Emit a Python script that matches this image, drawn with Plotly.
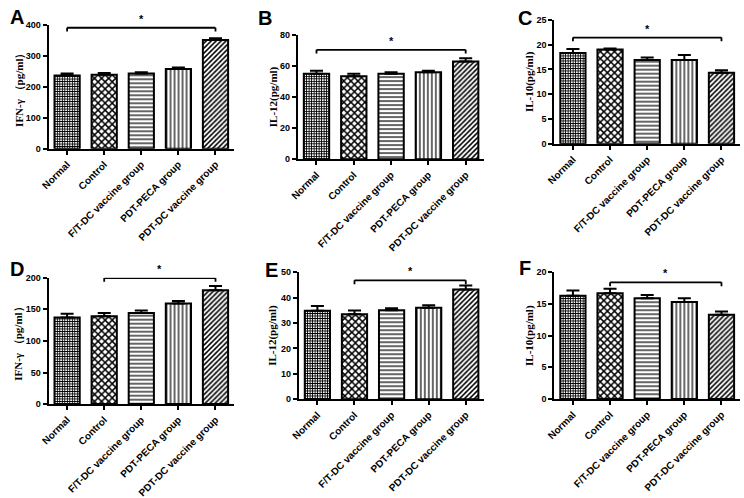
import plotly.graph_objects as go

categories = ["Normal", "Control", "F/T-DC vaccine group", "PDT-PECA group", "PDT-DC vaccine group"]

panel_letters = ["A", "B", "C", "D", "E", "F"]
y_titles = ["IFN-γ （pg/ml）", "IL-12(pg/ml)", "IL-10(pg/ml)",
            "IFN-γ （pg/ml）", "IL-12(pg/ml)", "IL-10(pg/ml)"]

# mean values
a_vals = [237, 240, 244, 258, 352]
b_vals = [55, 53.5, 55, 56, 63]
c_vals = [18.3, 19.0, 16.9, 16.9, 14.3]
d_vals = [137, 139, 144, 159, 180]
e_vals = [34.8, 33.5, 35, 36, 43.2]
f_vals = [16.3, 16.7, 15.9, 15.3, 13.3]

# upper error (value + SD)
a_err = [244, 245, 248, 263, 358]
b_err = [57, 55, 56, 57, 65]
c_err = [19.1, 19.2, 17.4, 17.9, 14.8]
d_err = [143, 144, 148, 163, 187]
e_err = [36.7, 34.9, 35.8, 37, 44.8]
f_err = [17.1, 17.4, 16.4, 15.9, 13.8]

# y-axis max and tick step
y_max = [400, 80, 25, 200, 50, 20]
y_step = [100, 20, 5, 50, 10, 5]

# significance brackets: (start category index, end category index, level)
brackets = [(0, 4, 392), (0, 4, 70.5), (0, 4, 21.4), (1, 4, 199.5), (1, 4, 46.8), (1, 4, 18.4)]

vals = [a_vals, b_vals, c_vals, d_vals, e_vals, f_vals]
errs = [a_err, b_err, c_err, d_err, e_err, f_err]

W, H = 744, 498
# pixel boxes: x0, x1, ytop, ybottom
boxes = [
    (41, 228.5, 20.7, 146.7),
    (293, 481.5, 30.7, 157.3),
    (552.3, 740, 15, 141.7),
    (41, 228.5, 278.3, 407.3),
    (294, 481.5, 272.7, 402.3),
    (552.3, 740, 272.7, 402),
]
title_x = [11, 268, 527, 11, 268, 527]
letter_pos = [(0, -1), (251, 0), (514, 0), (0, 256), (258, 257), (515, 255)]

patterns = ['+', 'x', '-', '|', '/']
pat_size = [2.5, 5, 4, 4, 3.5]
pat_sol = [0.6, 0.5, 0.3, 0.3, 0.45]

fig = go.Figure()
layout = dict(width=W, height=H, margin=dict(l=0, r=0, t=0, b=0),
              paper_bgcolor="white", plot_bgcolor="white", showlegend=False,
              shapes=[], annotations=[])

xtickfont = dict(family="Liberation Sans, Arial", size=10, color="black", weight="bold")
ytickfont = dict(family="Liberation Sans, Arial", size=9, color="black", weight="bold")

for i in range(6):
    n = i + 1
    xa = "x" if n == 1 else f"x{n}"
    ya = "y" if n == 1 else f"y{n}"
    x0, x1, yt, yb = boxes[i]
    fig.add_trace(go.Bar(
        x=categories, y=vals[i], xaxis=xa, yaxis=ya, width=0.68,
        marker=dict(color="white", line=dict(color="black", width=2),
                    pattern=dict(shape=patterns, size=pat_size, solidity=pat_sol,
                                 fgcolor="black", bgcolor="white", fillmode="replace")),
        error_y=dict(type="data", symmetric=False,
                     array=[e - v for e, v in zip(errs[i], vals[i])],
                     arrayminus=[0] * 5, color="black", thickness=2, width=6.5),
    ))
    layout["xaxis" if n == 1 else f"xaxis{n}"] = dict(
        domain=[x0 / W, x1 / W], anchor=ya, range=[-0.5, 4.5],
        showline=True, linecolor="black", linewidth=2, ticks="outside",
        ticklen=4, tickwidth=1.5, tickcolor="black", tickangle=-45,
        tickfont=xtickfont, showgrid=False, zeroline=False, fixedrange=True)
    layout["yaxis" if n == 1 else f"yaxis{n}"] = dict(
        domain=[1 - yb / H, 1 - yt / H], anchor=xa, range=[0, y_max[i]],
        dtick=y_step[i], tick0=0, showline=True, linecolor="black", linewidth=2,
        ticks="outside", ticklen=4, tickwidth=1.5, tickcolor="black",
        tickfont=ytickfont, showgrid=False, zeroline=False, fixedrange=True)
    # y title
    layout["annotations"].append(dict(
        text=y_titles[i], xref="paper", yref="paper", x=title_x[i] / W,
        y=1 - ((yt + yb) / 2) / H, textangle=-90, showarrow=False,
        font=dict(family="Liberation Serif, Times New Roman", size=11, color="black", weight="bold"),
        xanchor="center", yanchor="middle"))
    # panel letter
    lx, ly = letter_pos[i]
    layout["annotations"].append(dict(
        text=panel_letters[i], xref="paper", yref="paper", x=lx / W, y=1 - ly / H,
        showarrow=False, xanchor="left", yanchor="top",
        font=dict(family="Liberation Sans, Arial", size=20, color="black", weight="bold")))
    # bracket
    s, e, lvl = brackets[i]
    drop = y_max[i] * 0.03
    for path in [(s, lvl - drop, s, lvl), (s, lvl, e, lvl), (e, lvl, e, lvl - drop)]:
        layout["shapes"].append(dict(type="line", xref=xa, yref=ya,
                                     x0=path[0], y0=path[1], x1=path[2], y1=path[3],
                                     line=dict(color="black", width=1.8)))
    layout["annotations"].append(dict(
        text="*", xref=xa, yref=ya, x=(s + e) / 2, y=lvl, showarrow=False,
        yanchor="bottom", yshift=1,
        font=dict(family="Liberation Sans, Arial", size=11, color="black", weight="bold")))

fig.update_layout(**layout)
fig.write_html("out.html", config={"displayModeBar": False},
               post_script="document.body.style.margin='0';document.body.style.overflow='hidden';")
